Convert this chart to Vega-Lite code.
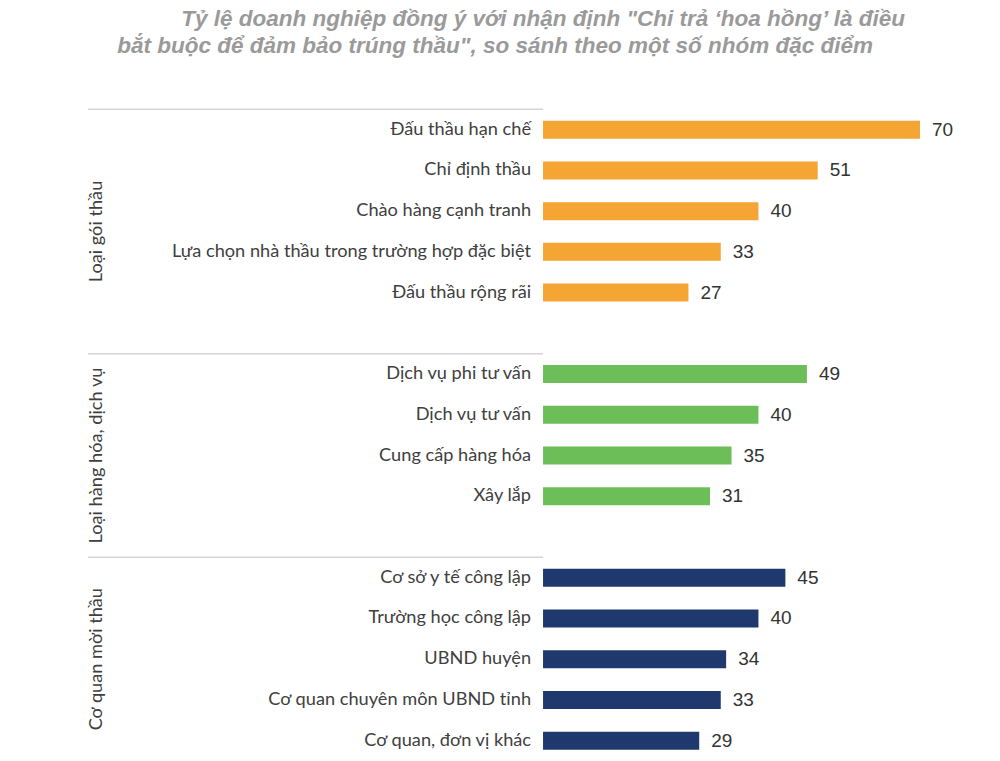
{
  "$schema": "https://vega.github.io/schema/vega-lite/v6.json",
  "width": 832,
  "height": 651.7,
  "autosize": "none",
  "padding": {"left": 88, "top": 109.3, "right": 80, "bottom": 0},
  "background": "white",
  "title": {
    "text": ["Tỷ lệ doanh nghiệp đồng ý với nhận định \"Chi trả ‘hoa hồng’ là điều", "bắt buộc để đảm bảo trúng thầu\", so sánh theo một số nhóm đặc điểm\u2800\u2800"],
    "anchor": "end",
    "frame": "group",
    "dx": -15,
    "offset": 51,
    "font": "Liberation Sans",
    "fontSize": 22.5,
    "fontWeight": "bold",
    "fontStyle": "italic",
    "color": "#9a9a9a",
    "lineHeight": 27
  },
  "config": {"view": {"stroke": null}},
  "datasets": {
    "bars": [
      {"group": "Loại gói thầu", "cat": "Đấu thầu hạn chế", "value": 70},
      {"group": "Loại gói thầu", "cat": "Chỉ định thầu", "value": 51},
      {"group": "Loại gói thầu", "cat": "Chào hàng cạnh tranh", "value": 40},
      {"group": "Loại gói thầu", "cat": "Lựa chọn nhà thầu trong trường hợp đặc biệt", "value": 33},
      {"group": "Loại gói thầu", "cat": "Đấu thầu rộng rãi", "value": 27},
      {"group": "Loại hàng hóa, dịch vụ", "cat": "Dịch vụ phi tư vấn", "value": 49},
      {"group": "Loại hàng hóa, dịch vụ", "cat": "Dịch vụ tư vấn", "value": 40},
      {"group": "Loại hàng hóa, dịch vụ", "cat": "Cung cấp hàng hóa", "value": 35},
      {"group": "Loại hàng hóa, dịch vụ", "cat": "Xây lắp", "value": 31},
      {"group": "Cơ quan mời thầu", "cat": "Cơ sở y tế công lập", "value": 45},
      {"group": "Cơ quan mời thầu", "cat": "Trường học công lập", "value": 40},
      {"group": "Cơ quan mời thầu", "cat": "UBND huyện", "value": 34},
      {"group": "Cơ quan mời thầu", "cat": "Cơ quan chuyên môn UBND tỉnh", "value": 33},
      {"group": "Cơ quan mời thầu", "cat": "Cơ quan, đơn vị khác", "value": 29}
    ],
    "groups": [
      {"group": "Loại gói thầu", "first": "Đấu thầu hạn chế", "middle": "Chào hàng cạnh tranh"},
      {"group": "Loại hàng hóa, dịch vụ", "first": "Dịch vụ phi tư vấn", "middle": "Cung cấp hàng hóa"},
      {"group": "Cơ quan mời thầu", "first": "Cơ sở y tế công lập", "middle": "UBND huyện"}
    ]
  },
  "encoding": {
    "y": {
      "field": "cat",
      "type": "nominal",
      "axis": null,
      "scale": {
        "domain": ["Đấu thầu hạn chế", "Chỉ định thầu", "Chào hàng cạnh tranh", "Lựa chọn nhà thầu trong trường hợp đặc biệt", "Đấu thầu rộng rãi", "gap1", "Dịch vụ phi tư vấn", "Dịch vụ tư vấn", "Cung cấp hàng hóa", "Xây lắp", "gap2", "Cơ sở y tế công lập", "Trường học công lập", "UBND huyện", "Cơ quan chuyên môn UBND tỉnh", "Cơ quan, đơn vị khác"],
        "paddingInner": 0,
        "paddingOuter": 0
      }
    }
  },
  "layer": [
    {
      "data": {"name": "bars"},
      "mark": {"type": "bar", "size": 18},
      "encoding": {
        "x": {"field": "value", "type": "quantitative", "axis": null, "scale": {"domain": [-84.5, 70], "nice": false, "zero": false}},
        "color": {
          "field": "group",
          "type": "nominal",
          "legend": null,
          "scale": {"domain": ["Loại gói thầu", "Loại hàng hóa, dịch vụ", "Cơ quan mời thầu"], "range": ["#F5A533", "#6CBE59", "#1F386E"]}
        }
      }
    },
    {
      "data": {"name": "bars"},
      "mark": {"type": "text", "align": "left", "baseline": "middle", "dx": 12, "font": "Liberation Sans", "fontSize": 19, "color": "#333333"},
      "encoding": {
        "x": {"field": "value", "type": "quantitative"},
        "text": {"field": "value", "type": "quantitative"}
      }
    },
    {
      "data": {"name": "bars"},
      "mark": {"type": "text", "align": "right", "baseline": "middle", "dx": -12, "font": "Lato", "fontSize": 18.2, "color": "#404040"},
      "encoding": {
        "x": {"datum": 0, "type": "quantitative"},
        "text": {"field": "cat", "type": "nominal"}
      }
    },
    {
      "data": {"name": "groups"},
      "mark": {"type": "rule", "color": "#d6d6d6", "strokeWidth": 1.5},
      "encoding": {
        "y": {"field": "first", "type": "nominal", "bandPosition": 0},
        "x": {"datum": -84.5, "type": "quantitative"},
        "x2": {"datum": 0}
      }
    },
    {
      "data": {"values": [{}]},
      "mark": {"type": "rule", "color": "#d6d6d6", "strokeWidth": 1.5},
      "encoding": {
        "x": {"datum": 0, "type": "quantitative"}
      }
    },
    {
      "data": {"name": "groups"},
      "transform": [{"filter": "datum.group === 'Loại gói thầu'"}],
      "mark": {"type": "text", "angle": 270, "align": "center", "baseline": "middle", "dy": 9, "font": "Lato", "fontSize": 18.2, "color": "#404040"},
      "encoding": {
        "y": {"field": "middle", "type": "nominal", "bandPosition": 1},
        "x": {"datum": -84.5, "type": "quantitative"},
        "text": {"field": "group", "type": "nominal"}
      }
    },
    {
      "data": {"name": "groups"},
      "transform": [{"filter": "datum.group !== 'Loại gói thầu'"}],
      "mark": {"type": "text", "angle": 270, "align": "center", "baseline": "middle", "dy": 9, "font": "Lato", "fontSize": 18.2, "color": "#404040"},
      "encoding": {
        "y": {"field": "middle", "type": "nominal", "bandPosition": 0.5},
        "x": {"datum": -84.5, "type": "quantitative"},
        "text": {"field": "group", "type": "nominal"}
      }
    }
  ]
}
